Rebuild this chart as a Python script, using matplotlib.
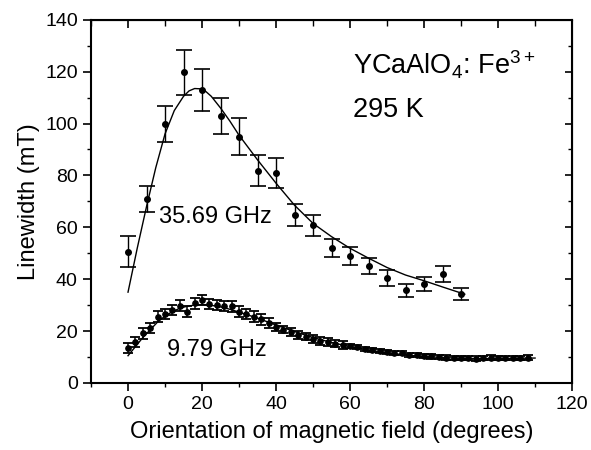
import matplotlib.pyplot as plt
import numpy as np

plt.rcParams['font.family'] = ['Liberation Sans', 'DejaVu Sans']
plt.rcParams['mathtext.fontset'] = 'custom'
plt.rcParams['mathtext.rm'] = 'Liberation Sans'
plt.rcParams['mathtext.it'] = 'Liberation Sans:italic'
plt.rcParams['mathtext.bf'] = 'Liberation Sans:bold'

# 35.69 GHz data (degrees, mT)
x_q = [0, 5, 10, 15, 20, 25, 30, 35, 40, 45, 50, 55, 60, 65, 70, 75, 80, 85, 90]
y_q = [50.6, 71, 99.8, 119.7, 113, 102.8, 95, 81.8, 80.9, 64.8, 60.7, 52, 49,
       45.1, 40.4, 35.7, 38.2, 41.9, 34.2]
err_q = [6, 5, 7, 8.5, 8, 7, 7, 6, 5.7, 4.3, 4.2, 3.5, 3.4, 3, 3, 2.6, 2.7, 3, 2.4]

# fitted curve for 35.69 GHz
fit_q_x = [0, 2.5, 5, 7.5, 10, 12.5, 15, 16.5, 18, 19.5, 21, 22.5, 25, 27.5, 30,
           35, 40, 45, 50, 55, 60, 65, 70, 75, 80, 85, 91]
fit_q_y = [35, 52, 68, 83, 96, 105, 110.5, 112.6, 113.5, 113.4, 112.4, 110.5,
           106, 101, 95.5, 86, 77, 68.5, 61.5, 56.4, 51.9, 48.1, 44.5, 41.6,
           39.4, 37, 34.2]

# 9.79 GHz data
x_x = list(range(0, 110, 2))
y_x = [13.4, 15.9, 19.1, 21.1, 25.6, 26.5, 28.2, 29.8, 27.5, 30.7, 32.0, 30.5,
       30.1, 29.7, 29.5, 27.5, 26.5, 25.6, 24.5, 23.0, 21.5, 20.6, 19.5, 18.5,
       17.9, 16.8, 16.2, 15.7, 15.2, 14.7, 14.3, 13.7, 13.2, 12.8, 12.4, 12.0,
       11.7, 11.4, 10.9, 10.7, 10.5, 10.2, 9.9, 9.8, 9.7, 9.6, 9.5, 9.4, 9.6,
       9.8, 9.6, 9.5, 9.6, 9.5, 9.8]
err_x = [2] * 20 + [1.5] * 10 + [0.8] * 25

fit_x_x = [0, 2, 4, 6, 8, 10, 12, 14, 16, 18, 20, 22, 24, 26, 28, 30, 35, 40,
           45, 50, 55, 60, 65, 70, 75, 80, 85, 90, 95, 100, 105, 110]
fit_x_y = [10.5, 14, 17.5, 20.5, 23.5, 25.8, 27.5, 28.8, 29.6, 30, 30.2, 30,
           29.6, 29, 28.2, 27.3, 25, 22.3, 19.8, 17.5, 15.6, 14, 12.7, 11.6,
           10.8, 10.2, 9.8, 9.5, 9.4, 9.4, 9.5, 9.6]

fig = plt.figure(figsize=(5.91, 4.5), dpi=100)
ax = fig.add_axes([0.154, 0.149, 0.814, 0.807])

ax.plot(fit_q_x, fit_q_y, color='black', lw=1.0)
ax.errorbar(x_q, y_q, yerr=err_q, fmt='o', color='black', ms=4,
            capsize=5.5, elinewidth=1.0, capthick=1.2)
ax.plot(fit_x_x, fit_x_y, color='black', lw=1.0)
ax.errorbar(x_x, y_x, yerr=err_x, fmt='o', color='black', ms=3.8,
            capsize=3.5, elinewidth=1.1, capthick=1.3)

ax.set_xlim(-10, 120)
ax.set_ylim(0, 140)
ax.set_xticks(np.arange(0, 121, 20))
ax.set_yticks(np.arange(0, 141, 20))
ax.set_xticks(np.arange(-10, 121, 10), minor=True)
ax.set_yticks(np.arange(0, 141, 10), minor=True)
ax.tick_params(which='major', direction='out', length=6, width=1.2, labelsize=14)
ax.tick_params(which='minor', direction='out', length=3, width=1.0)
for s in ax.spines.values():
    s.set_linewidth(1.5)

top = ax.secondary_xaxis('top')
top.set_xticks(np.arange(0, 121, 20))
top.set_xticks(np.arange(-10, 121, 10), minor=True)
top.tick_params(which='major', direction='in', length=6, width=1.2, labeltop=False)
top.tick_params(which='minor', direction='in', length=4, width=1.0)
right = ax.secondary_yaxis('right')
right.set_yticks(np.arange(0, 141, 20))
right.set_yticks(np.arange(0, 141, 10), minor=True)
right.tick_params(which='major', direction='in', length=5, width=1.2, labelright=False)
right.tick_params(which='minor', direction='in', length=3, width=1.0)

ax.set_xlabel('Orientation of magnetic field (degrees)', fontsize=17, labelpad=6)
ax.set_ylabel('Linewidth (mT)', fontsize=17, labelpad=4)

ax.text(60.8, 118.8, 'YCaAlO$_4$: Fe$^{3+}$', fontsize=19.5, va='baseline')
ax.text(60.8, 102.7, '295 K', fontsize=19.5, va='baseline')
ax.text(8.5, 61.5, '35.69 GHz', fontsize=17, va='baseline')
ax.text(10.5, 10.5, '9.79 GHz', fontsize=17, va='baseline')

fig.savefig('out.png', dpi=100)
